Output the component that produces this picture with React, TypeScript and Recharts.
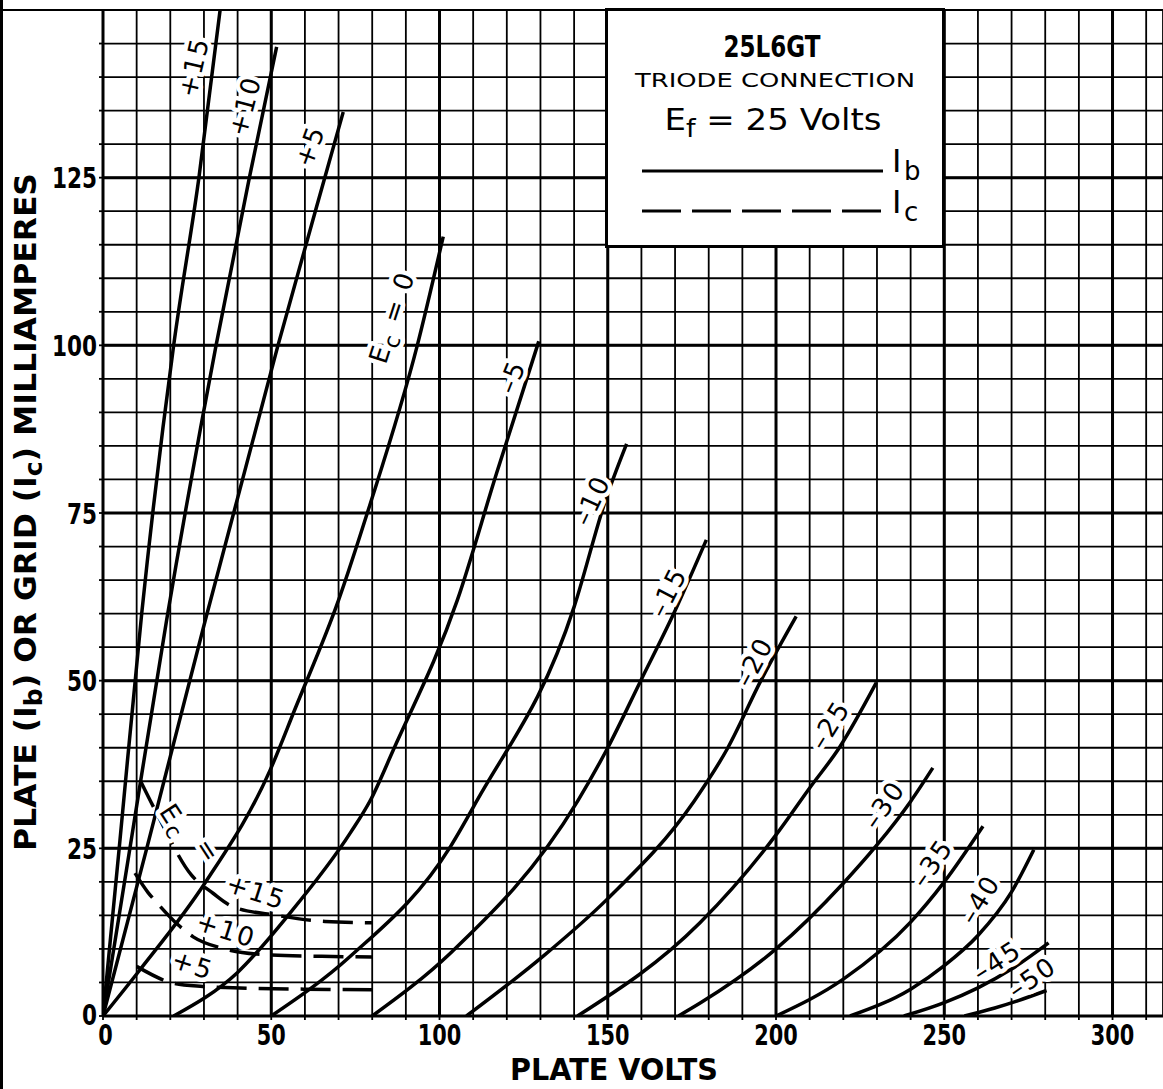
import React from "react";
import {
  ComposedChart,
  Line,
  XAxis,
  YAxis,
  CartesianGrid,
  ReferenceLine,
  ReferenceDot,
  Legend,
} from "recharts";

type Pt = [number, number];

// plate volts / milliamperes
const xTicks = [0, 10, 20, 30, 40, 50, 60, 70, 80, 90, 100, 110, 120, 130, 140, 150, 160, 170, 180, 190, 200, 210, 220, 230, 240, 250, 260, 270, 280, 290, 300, 310];
const yTicks = [0, 5, 10, 15, 20, 25, 30, 35, 40, 45, 50, 55, 60, 65, 70, 75, 80, 85, 90, 95, 100, 105, 110, 115, 120, 125, 130, 135, 140, 145, 150];
const xLabelled = [0, 50, 100, 150, 200, 250, 300];
const yLabelled = [0, 25, 50, 75, 100, 125];

// plate current Ib, one array per grid voltage
const ibP15: Pt[] = [[0, 0], [5, 26], [11.5, 60], [21, 100], [28.5, 125], [34.8, 150]];
const ibP10: Pt[] = [[0, 0], [8, 25], [18.9, 59], [33.6, 100], [43.5, 125], [51.6, 144.5]];
const ibP5: Pt[] = [[0, 0], [13, 25], [30.4, 59], [52, 100], [65.9, 125], [71.4, 134.8]];
const ib0: Pt[] = [[0, 0], [11, 6.9], [30.4, 19.9], [49.7, 36.7], [57, 45.7], [70, 62], [78.8, 75.4], [93.4, 100], [101.1, 116.2]];
const ibM5: Pt[] = [[21, 0], [40, 6.5], [55, 15], [73.5, 27.3], [79.5, 32.2], [86.3, 39.7], [105.3, 62], [117, 81], [129.5, 100.6]];
const ibM10: Pt[] = [[50, 0], [73.5, 8.9], [103.3, 25.3], [111, 32], [140, 61], [149.4, 77], [155.6, 85.3]];
const ibM15: Pt[] = [[80, 0], [103.3, 9.4], [141, 32], [150, 40], [159.8, 50], [169.6, 60], [179.3, 71]];
const ibM20: Pt[] = [[108, 0], [131, 9], [150, 17.5], [175.6, 32], [185.7, 40], [195.5, 50], [206, 59.6]];
const ibM25: Pt[] = [[141, 0], [177.4, 13.9], [200, 27], [210, 34], [218.8, 40], [229.8, 49.7]];
const ibM30: Pt[] = [[171, 0], [177.7, 2], [200, 10], [220, 19.8], [230, 25.5], [240, 32], [246.6, 37]];
const ibM35: Pt[] = [[200, 0], [220, 5.5], [240, 14], [250, 20], [261.5, 28.3]];
const ibM40: Pt[] = [[222, 0], [240, 4], [250, 7.5], [260, 12], [270, 18.5], [276.6, 24.8]];
const ibM45: Pt[] = [[238, 0], [250, 2], [260, 4.2], [270, 7], [281, 10.9]];
const ibM50: Pt[] = [[256, 0], [265, 1.2], [272, 2.3], [280.4, 3.8]];

// grid current Ic (dashed)
const icP15: Pt[] = [[11, 35.2], [15.9, 30.3], [26.3, 21], [32.7, 18.3], [38.6, 16.3], [51.6, 15], [66, 14.1], [80, 13.9]];
const icP10: Pt[] = [[9.5, 21.3], [13.4, 18.4], [16, 16.9], [22.3, 13.6], [26.8, 11.8], [35.4, 10.1], [49.7, 9.1], [65, 8.9], [80, 8.8]];
const icP5: Pt[] = [[10, 7.4], [20.9, 4.9], [29.6, 4.4], [38.7, 4.2], [60, 4], [81, 3.9]];

const plateCurves = [ibP15, ibP10, ibP5, ib0, ibM5, ibM10, ibM15, ibM20, ibM25, ibM30, ibM35, ibM40, ibM45, ibM50];
const gridCurves = [icP15, icP10, icP5];

const toRows = (pts: Pt[]) => pts.map(([v, ma]) => ({ v, ma }));

// curve captions: text, anchor (volts, mA), rotation
const curveLabels = [
  { pre: "+15", v: 27.0, ma: 141.5, angle: -77 },
  { pre: "+10", v: 42.2, ma: 135.7, angle: -75 },
  { pre: "+5", v: 61.5, ma: 129.7, angle: -70 },
  { pre: "E", sub: "c", post: " = 0", v: 85.9, ma: 104.2, angle: -72 },
  { pre: "–5", v: 121.5, ma: 95.3, angle: -68 },
  { pre: "–10", v: 145.3, ma: 76.9, angle: -65 },
  { pre: "–15", v: 167.9, ma: 63.2, angle: -63 },
  { pre: "–20", v: 193.5, ma: 52.8, angle: -62 },
  { pre: "–25", v: 216.0, ma: 43.4, angle: -58 },
  { pre: "–30", v: 232.1, ma: 31.5, angle: -55 },
  { pre: "–35", v: 246.4, ma: 22.8, angle: -55 },
  { pre: "–40", v: 260.6, ma: 17.4, angle: -58 },
  { pre: "–45", v: 265.7, ma: 8.2, angle: -33 },
  { pre: "–50", v: 276.1, ma: 5.7, angle: -35 },
  { pre: "E", sub: "c", v: 21.4, ma: 29.2, angle: 57 },
  { pre: "=", v: 31.2, ma: 24.6, angle: 57 },
  { pre: "+15", v: 45.5, ma: 18.5, angle: 18 },
  { pre: "+10", v: 36.6, ma: 12.8, angle: 18 },
  { pre: "+5", v: 26.7, ma: 7.6, angle: 18 },
];

const FONT = "'DejaVu Sans', sans-serif";

const CurveText = ({ cx, cy, l }: any) => (
  <text
    x={cx}
    y={cy}
    transform={`rotate(${l.angle} ${cx} ${cy})`}
    textAnchor="middle"
    dominantBaseline="central"
    fontFamily={FONT}
    fontSize={26}
    letterSpacing={2}
    fill="#000"
    stroke="#fff"
    strokeWidth={9}
    strokeLinejoin="round"
    paintOrder="stroke"
  >
    {l.pre}
    {l.sub && (
      <tspan dy={7} fontSize={22}>
        {l.sub}
      </tspan>
    )}
    {l.post && <tspan dy={-7}>{l.post}</tspan>}
  </text>
);

const XTick = ({ x, y, payload }: any) => {
  const s = String(payload.value);
  if (!xLabelled.includes(payload.value)) return <g />;
  // the zero sits just right of the y-axis zero
  const dx = payload.value === 0 ? 2.5 : 0;
  return (
    <text x={x + dx} y={y + 23} textAnchor="middle" fontFamily={FONT} fontWeight="bold" fontSize={29}
      textLength={s.length * 14.5} lengthAdjust="spacingAndGlyphs" fill="#000">
      {s}
    </text>
  );
};

const YTick = ({ x, y, payload }: any) => {
  const s = String(payload.value);
  if (!yLabelled.includes(payload.value)) return <g />;
  const dy = payload.value === 0 ? 8.5 : 10.5;
  return (
    <text x={x} y={y + dy} textAnchor="end" fontFamily={FONT} fontWeight="bold" fontSize={29}
      textLength={s.length * 15} lengthAdjust="spacingAndGlyphs" fill="#000">
      {s}
    </text>
  );
};

const YTitle = () => (
  <text transform="translate(25,512) rotate(-90)" x={0} y={11} textAnchor="middle" fontFamily={FONT}
    fontWeight="bold" fontSize={30} textLength={678} lengthAdjust="spacingAndGlyphs" fill="#000">
    PLATE (I<tspan dy={6} fontSize={24}>b</tspan>
    <tspan dy={-6}>) OR GRID (I</tspan>
    <tspan dy={6} fontSize={24}>c</tspan>
    <tspan dy={-6}>) MILLIAMPERES</tspan>
  </text>
);

const XTitle = () => (
  <text x={614} y={1080} textAnchor="middle" fontFamily={FONT} fontWeight="bold" fontSize={30}
    textLength={208} lengthAdjust="spacingAndGlyphs" fill="#000">
    PLATE VOLTS
  </text>
);

const LegendBox = () => (
  <div style={{ width: 340, height: 240, boxSizing: "border-box", border: "3px solid #000", background: "#fff" }}>
    <svg width={334} height={234} style={{ display: "block" }}>
      <text x={164} y={46} textAnchor="middle" fontFamily={FONT} fontWeight="bold" fontSize={30}
        textLength={97} lengthAdjust="spacingAndGlyphs">25L6GT</text>
      <text x={167} y={76} textAnchor="middle" fontFamily={FONT} fontSize={20}
        textLength={280} lengthAdjust="spacingAndGlyphs">TRIODE CONNECTION</text>
      <text x={165} y={119} textAnchor="middle" fontFamily={FONT} fontSize={30}
        textLength={217} lengthAdjust="spacingAndGlyphs">
        E<tspan dy={7} fontSize={24}>f</tspan>
        <tspan dy={-7}> = 25 Volts</tspan>
      </text>
      <line x1={34} x2={275} y1={160} y2={160} stroke="#000" strokeWidth={3} />
      <text x={284} y={161} fontFamily={FONT} fontSize={32}>I</text>
      <text x={296} y={169} fontFamily={FONT} fontSize={26}>b</text>
      <line x1={34} x2={274} y1={200} y2={200} stroke="#000" strokeWidth={3} strokeDasharray="39 11" />
      <text x={284} y={202} fontFamily={FONT} fontSize={32}>I</text>
      <text x={296} y={210} fontFamily={FONT} fontSize={26}>c</text>
    </svg>
  </div>
);

const App = () => {
  return (
    <div style={{ position: "absolute", left: 0, top: 0, width: 1163, height: 1089, background: "#fff" }}>
      <ComposedChart width={1163} height={1089} margin={{ top: 10, right: 0, left: 0, bottom: 0 }}>
        <CartesianGrid stroke="#000" strokeWidth={1.8} strokeOpacity={1} />
        <XAxis
          type="number"
          dataKey="v"
          domain={[0, 315]}
          allowDataOverflow
          ticks={xTicks}
          interval={0}
          height={73}
          tick={(p: any) => <XTick {...p} />}
          tickSize={4}
          tickMargin={2}
          axisLine={{ stroke: "#000", strokeWidth: 3 }}
          tickLine={{ stroke: "#000", strokeWidth: 1.8 }}
          label={<XTitle />}
        />
        <YAxis
          type="number"
          dataKey="ma"
          domain={[0, 150]}
          allowDataOverflow
          ticks={yTicks}
          interval={0}
          width={103}
          tick={(p: any) => <YTick {...p} />}
          tickSize={4}
          tickMargin={2}
          axisLine={{ stroke: "#000", strokeWidth: 3 }}
          tickLine={{ stroke: "#000", strokeWidth: 1.8 }}
          label={<YTitle />}
        />
        {xLabelled.filter((v) => v > 0).map((v) => (
          <ReferenceLine key={"x" + v} x={v} stroke="#000" strokeWidth={3} />
        ))}
        {yLabelled.filter((v) => v > 0).map((v) => (
          <ReferenceLine key={"y" + v} y={v} stroke="#000" strokeWidth={3} />
        ))}
        {curveLabels.map((l, i) => (
          <ReferenceDot
            key={"l" + i}
            x={l.v}
            y={l.ma}
            r={0}
            ifOverflow="visible"
            shape={(p: any) => <CurveText cx={p.cx} cy={p.cy} l={l} />}
          />
        ))}
        {plateCurves.map((pts, i) => (
          <Line
            key={"ib" + i}
            data={toRows(pts)}
            dataKey="ma"
            type="monotone"
            stroke="#000"
            strokeWidth={3.5}
            dot={false}
            activeDot={false}
            legendType="none"
            isAnimationActive={false}
          />
        ))}
        {gridCurves.map((pts, i) => (
          <Line
            key={"ic" + i}
            data={toRows(pts)}
            dataKey="ma"
            type="monotone"
            stroke="#000"
            strokeWidth={3.5}
            strokeDasharray="30 12"
            dot={false}
            activeDot={false}
            legendType="none"
            isAnimationActive={false}
          />
        ))}
        <Legend
          layout="vertical"
          align="center"
          verticalAlign="middle"
          content={() => <LegendBox />}
          wrapperStyle={{ position: "absolute", left: 605, top: 8, width: 340, height: 240 }}
        />
      </ComposedChart>
      <div style={{ position: "absolute", left: 0, top: 0, width: 3, height: 1089, background: "#000" }} />
      <div style={{ position: "absolute", left: 0, top: 9, width: 103, height: 2, background: "#000" }} />
    </div>
  );
};

export default App;
